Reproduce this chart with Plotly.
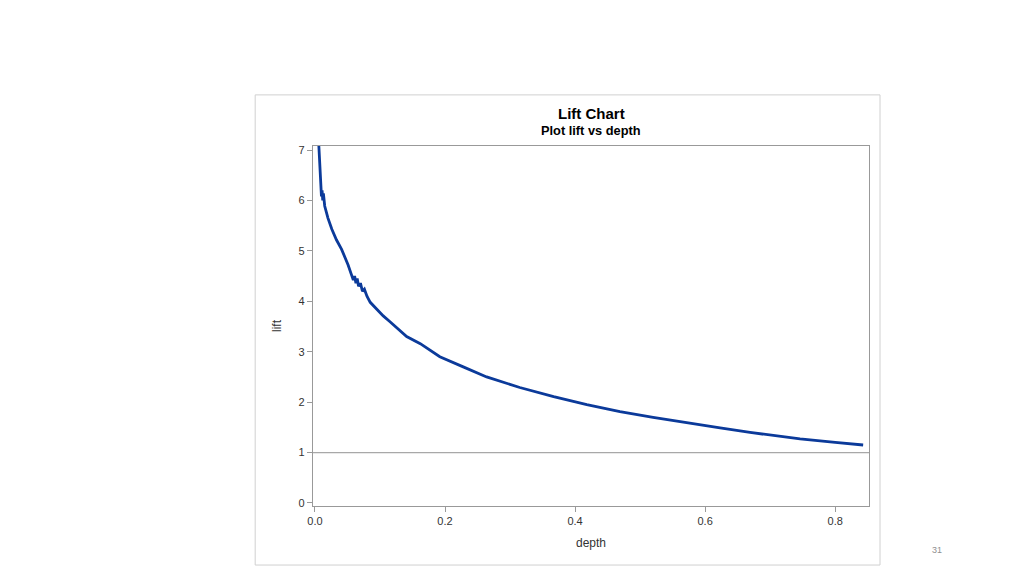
import plotly.graph_objects as go

# lift chart values
depth = [0.006, 0.007, 0.008, 0.009, 0.010, 0.011, 0.012, 0.013, 0.014, 0.015,
         0.020, 0.026, 0.033, 0.041, 0.051, 0.056, 0.059, 0.061, 0.063, 0.065,
         0.067, 0.070, 0.073, 0.076, 0.080, 0.085, 0.095, 0.105, 0.115, 0.128,
         0.141, 0.162, 0.192, 0.228, 0.264, 0.315, 0.367, 0.418, 0.469, 0.520,
         0.572, 0.623, 0.669, 0.746, 0.800, 0.843]
lift = [7.08, 6.80, 6.56, 6.40, 6.08, 6.20, 6.00, 6.14, 5.95, 5.89,
        5.65, 5.43, 5.22, 5.03, 4.72, 4.50, 4.42, 4.50, 4.36, 4.45,
        4.30, 4.36, 4.20, 4.24, 4.10, 3.98, 3.84, 3.71, 3.60, 3.44,
        3.30, 3.16, 2.90, 2.70, 2.50, 2.29, 2.11, 1.95, 1.81, 1.70,
        1.59, 1.49, 1.40, 1.27, 1.20, 1.15]
baseline = 1

x_ticks = [0.0, 0.2, 0.4, 0.6, 0.8]
x_labels = ["0.0", "0.2", "0.4", "0.6", "0.8"]
y_ticks = [0, 1, 2, 3, 4, 5, 6, 7]

fig = go.Figure()
fig.add_trace(go.Scatter(x=depth, y=lift, mode="lines",
                         line=dict(color="#0B3A9A", width=2.8),
                         showlegend=False))

# reference line at lift = 1
fig.add_shape(type="line", xref="paper", yref="y", x0=0, x1=1,
              y0=baseline, y1=baseline, line=dict(color="#A8A8A8", width=1.2))

# frame round the chart image
fig.add_shape(type="rect", xref="paper", yref="paper",
              x0=-0.104, x1=1.0198, y0=-0.164, y1=1.142,
              line=dict(color="#D0D0D0", width=1))

fig.add_annotation(text="<b>Lift Chart</b>", xref="paper", yref="paper",
                   x=0.5, y=1.089, yanchor="middle", showarrow=False,
                   font=dict(family="Liberation Sans", size=15, color="#000"))
fig.add_annotation(text="<b>Plot lift vs depth</b>", xref="paper", yref="paper",
                   x=0.5, y=1.044, yanchor="middle", showarrow=False,
                   font=dict(family="Liberation Sans", size=12.8, color="#000"))
fig.add_annotation(text="31", xref="paper", yref="paper",
                   x=1.1349, y=-0.122, yanchor="middle", showarrow=False,
                   font=dict(family="Liberation Sans", size=9, color="#909090"))

axis_style = dict(showgrid=False, zeroline=False, showline=True, mirror=True,
                  linecolor="#999999", linewidth=1.2, ticks="outside",
                  ticklen=5, tickcolor="#999999",
                  tickfont=dict(family="Liberation Sans", size=11, color="#333"))

fig.update_xaxes(range=[-0.003, 0.852], tickvals=x_ticks, ticktext=x_labels,
                 title=dict(text="depth", standoff=12,
                            font=dict(family="Liberation Sans", size=12, color="#333")),
                 **axis_style)
fig.update_yaxes(range=[-0.06, 7.08], tickvals=y_ticks,
                 title=dict(text="lift", standoff=14,
                            font=dict(family="Liberation Sans", size=12, color="#333")),
                 **axis_style)

fig.update_layout(width=1024, height=576,
                  margin=dict(l=305, r=163, t=138, b=78),
                  plot_bgcolor="white", paper_bgcolor="white")

fig.write_html("out.html")
